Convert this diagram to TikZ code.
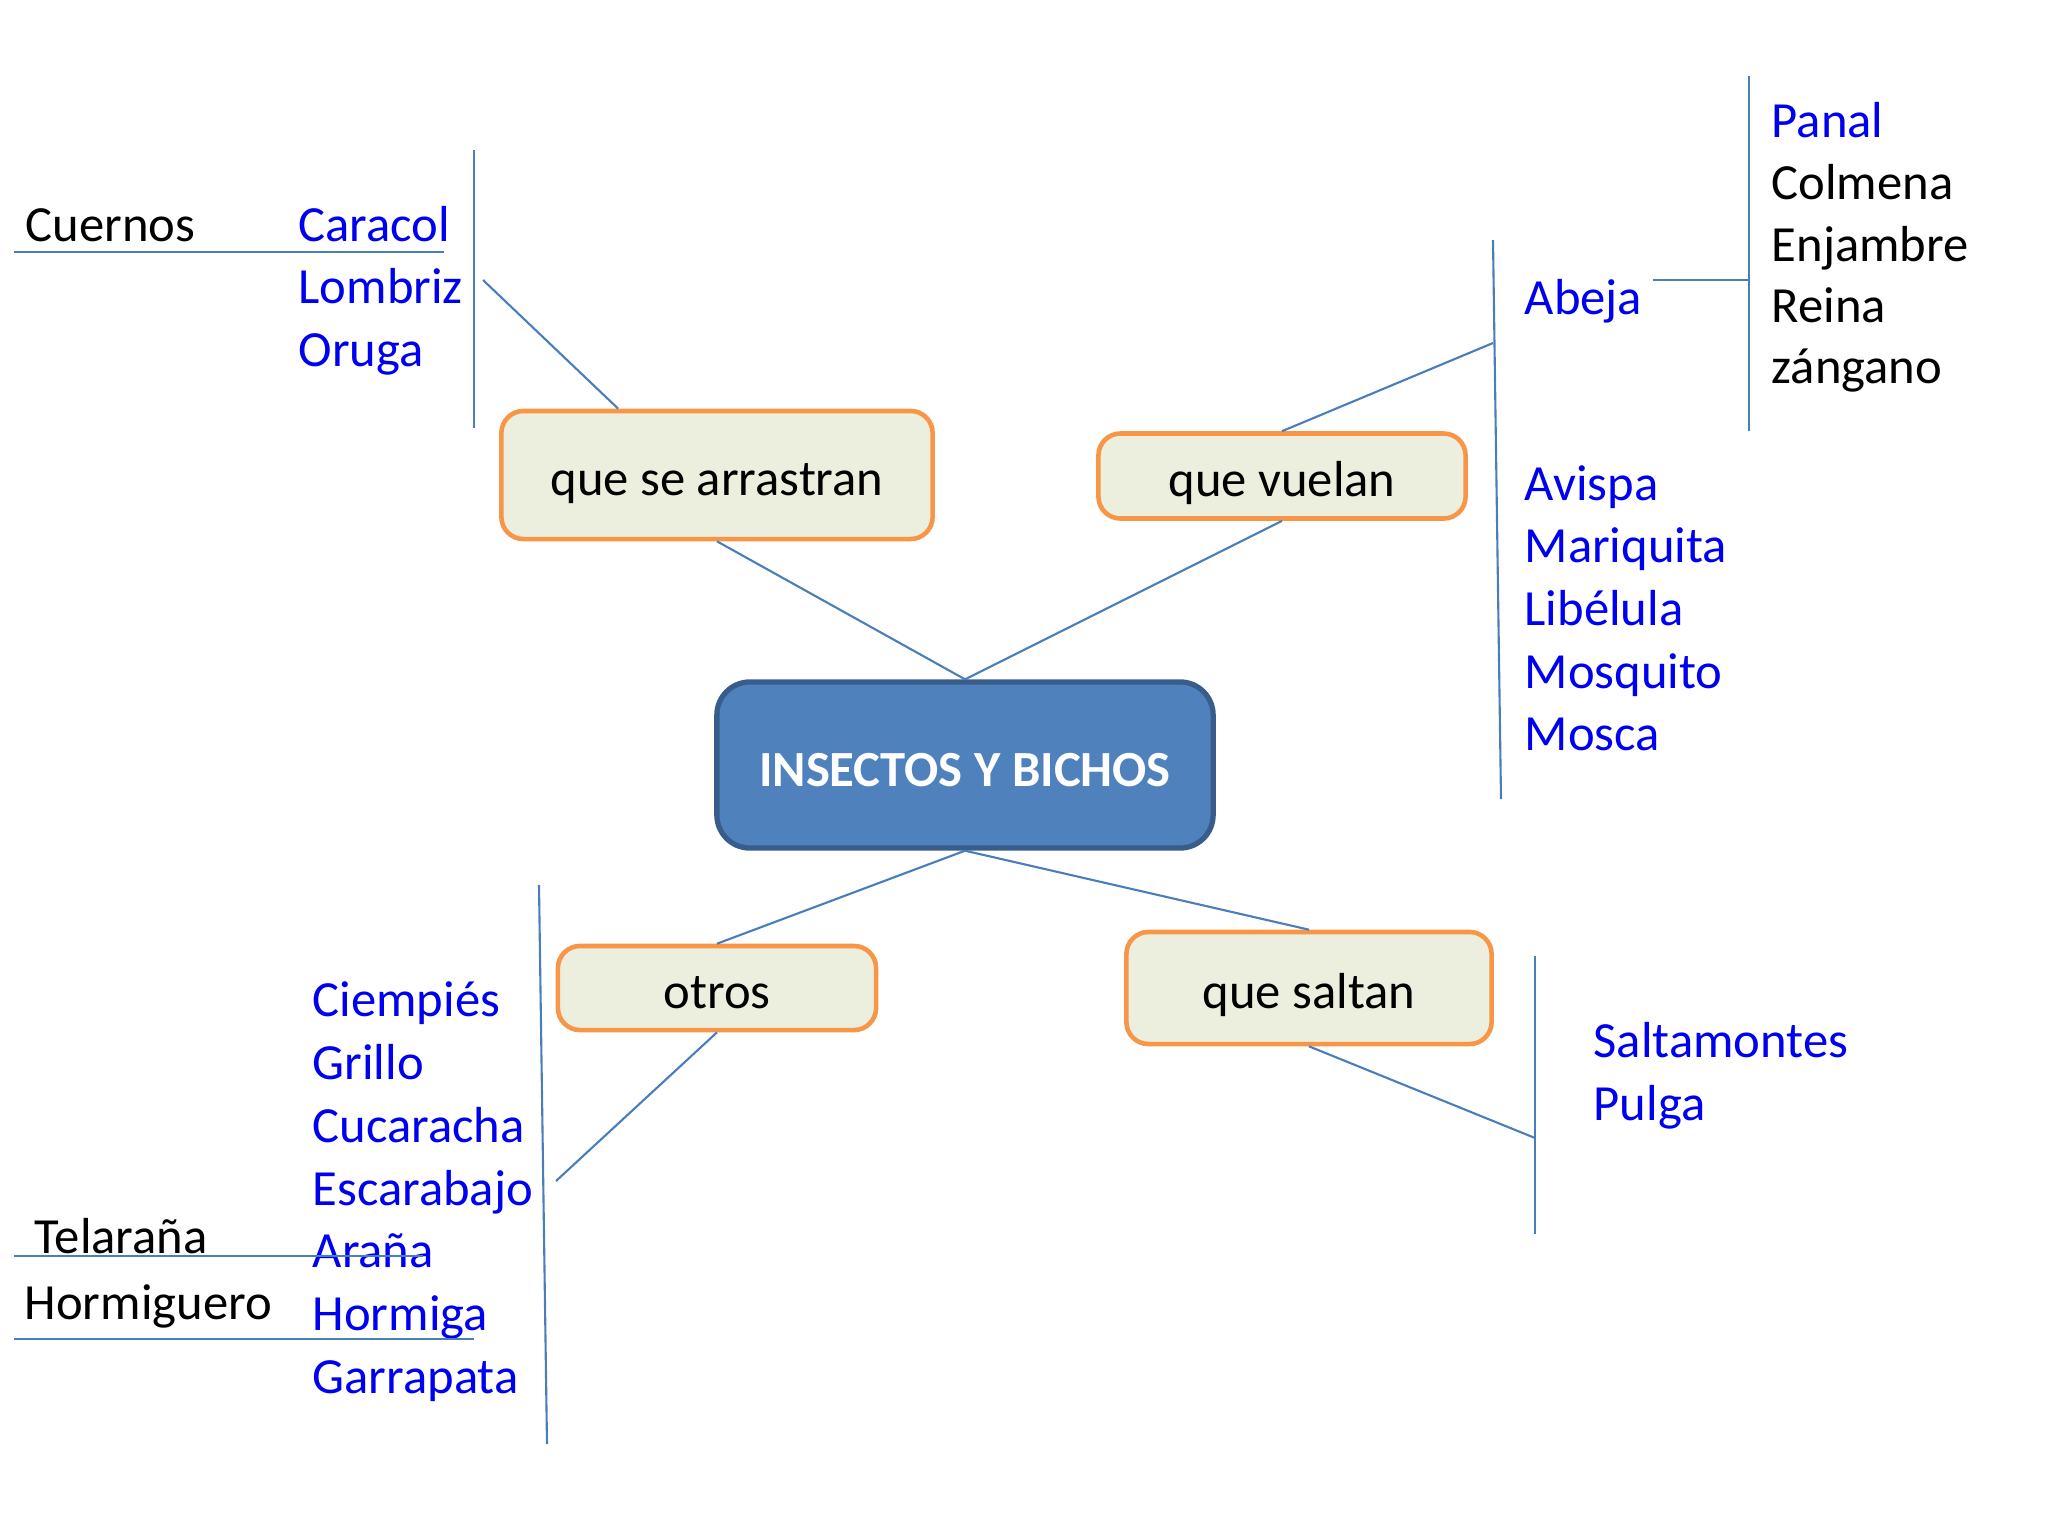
\documentclass[tikz,border=0pt]{standalone}
\usepackage{fontspec}
\setmainfont{Carlito}
\usepackage{tikz}
\definecolor{slate}{RGB}{79,129,189}
\definecolor{slatedark}{RGB}{56,93,138}
\definecolor{peach}{RGB}{247,150,70}
\definecolor{cream}{RGB}{236,238,222}
\definecolor{wordblue}{RGB}{0,0,240}
\definecolor{linkblue}{RGB}{74,126,187}

\begin{document}
\begin{tikzpicture}[x=0.01cm, y=-0.01cm]
  \tikzstyle{root} = [rectangle, draw=slatedark, line width=1.5pt, fill=slate, rounded corners=0.33cm, minimum width=4.96cm, minimum height=1.66cm, text height=0.42cm, text depth=0pt, font=\fontsize{14.4}{17}\selectfont\bfseries\color{white}]
  \tikzstyle{group} = [rectangle, draw=peach, line width=1.3pt, fill=cream, rounded corners=0.22cm, inner sep=0pt, text height=0.41cm, text depth=0pt, font=\fontsize{14.4}{17}\selectfont]
  \tikzstyle{animal} = [anchor=base west, inner sep=0pt, font=\fontsize{14.4}{17}\selectfont\color{wordblue}]
  \tikzstyle{extra} = [anchor=base west, inner sep=0pt, font=\fontsize{14.4}{17}\selectfont]
  \tikzstyle{branch} = [draw=linkblue, line width=0.6pt]

  \useasboundingbox (0,0) rectangle (2048,1536);

  \node [root] (bichos) at (965,765) {INSECTOS Y BICHOS};

  \node [group, minimum width=4.31cm, minimum height=1.28cm] (arrastran) at (717,475) {que se arrastran};
  \node [group, minimum width=3.67cm, minimum height=0.85cm] (vuelan) at (1282,476) {que vuelan};
  \node [group, minimum width=3.18cm, minimum height=0.84cm] (otros) at (717,988) {otros};
  \node [group, minimum width=3.65cm, minimum height=1.12cm] (saltan) at (1309,988) {que saltan};

  % que se arrastran
  \node [extra] (cuernos) at (25,241) {Cuernos};
  \node [animal] (caracol) at (298,241) {Caracol};
  \node [animal] (lombriz) at (298,303) {Lombriz};
  \node [animal] (oruga) at (298,366) {Oruga};

  % que vuelan
  \node [animal] (abeja) at (1524,314) {Abeja};
  \node [animal] (panal) at (1771,137) {Panal};
  \node [extra] (colmena) at (1771,199) {Colmena};
  \node [extra] (enjambre) at (1771,261) {Enjambre};
  \node [extra] (reina) at (1771,322) {Reina};
  \node [extra] (zangano) at (1771,383) {zángano};
  \node [animal] (avispa) at (1524,500) {Avispa};
  \node [animal] (mariquita) at (1524,562) {Mariquita};
  \node [animal] (libelula) at (1524,625) {Libélula};
  \node [animal] (mosquito) at (1524,688) {Mosquito};
  \node [animal] (mosca) at (1524,750) {Mosca};

  % otros
  \node [animal] (ciempies) at (312,1016) {Ciempiés};
  \node [animal] (grillo) at (312,1079) {Grillo};
  \node [animal] (cucaracha) at (312,1142) {Cucaracha};
  \node [animal] (escarabajo) at (312,1205) {Escarabajo};
  \node [animal] (arana) at (312,1267) {Araña};
  \node [animal] (hormiga) at (312,1330) {Hormiga};
  \node [animal] (garrapata) at (312,1393) {Garrapata};
  \node [extra] (telarana) at (34,1253) {Telaraña};
  \node [extra] (hormiguero) at (24,1319) {Hormiguero};

  % que saltan
  \node [animal] (saltamontes) at (1593,1057) {Saltamontes};
  \node [animal] (pulga) at (1593,1120) {Pulga};

  % bars and free ends
  \coordinate (arrbar1) at (474,150);
  \coordinate (arrbar2) at (474,428);
  \coordinate (arrend) at (483,280);
  \coordinate (cuer1) at (14,252);
  \coordinate (cuer2) at (444,252);
  \coordinate (vuebar1) at (1493,240);
  \coordinate (vuebar2) at (1501,799);
  \coordinate (vueend) at (1493,343);
  \coordinate (abe1) at (1653,280);
  \coordinate (abebar1) at (1749,76);
  \coordinate (abebar2) at (1749,431);
  \coordinate (abe2) at (1749,280);
  \coordinate (otrbar1) at (539,885);
  \coordinate (otrbar2) at (547,1444);
  \coordinate (otrend) at (556,1181);
  \coordinate (tela1) at (14,1256);
  \coordinate (tela2) at (423,1256);
  \coordinate (horm1) at (14,1339);
  \coordinate (horm2) at (474,1339);
  \coordinate (salbar1) at (1535,956);
  \coordinate (salbar2) at (1535,1234);
  \coordinate (salend) at (1535,1138);

  \draw [branch] (arrastran.south) -- (bichos.north);
  \draw [branch] (vuelan.south) -- (bichos.north);
  \draw [branch] (bichos.south) -- (otros.north);
  \draw [branch] (bichos.south) -- (saltan.north);

  \draw [branch] (arrastran.north west) ++(1.19cm,0) coordinate (arrtop) -- (arrend);
  \draw [branch] (arrbar1) -- (arrbar2);
  \draw [branch] (cuer1) -- (cuer2);

  \draw [branch] (vuelan.north) -- (vueend);
  \draw [branch] (vuebar1) -- (vuebar2);
  \draw [branch] (abe1) -- (abe2);
  \draw [branch] (abebar1) -- (abebar2);

  \draw [branch] (otros.south) -- (otrend);
  \draw [branch] (otrbar1) -- (otrbar2);
  \draw [branch] (tela1) -- (tela2);
  \draw [branch] (horm1) -- (horm2);

  \draw [branch] (saltan.south) -- (salend);
  \draw [branch] (salbar1) -- (salbar2);
\end{tikzpicture}
\end{document}
